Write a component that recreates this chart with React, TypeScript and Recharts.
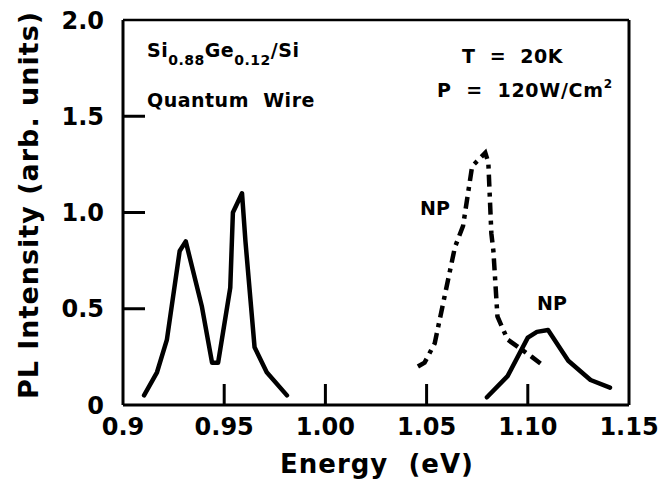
import React from 'react';
import { LineChart, Line, XAxis, YAxis, ReferenceLine } from 'recharts';

// axis ticks and their printed labels
const xTicks = [0.9, 0.95, 1.0, 1.05, 1.1, 1.15];
const xTickLabels = ['0.9', '0.95', '1.00', '1.05', '1.10', '1.15'];
const yTicks = [0, 0.5, 1.0, 1.5, 2.0];
const yTickLabels = ['0', '0.5', '1.0', '1.5', '2.0'];

// quantum wire double peak (solid, left)
const wireEnergy = [0.9104, 0.9168, 0.9217, 0.928, 0.931, 0.939, 0.944, 0.947, 0.953, 0.9543, 0.9588, 0.9605, 0.965, 0.971, 0.981];
const wireIntensity = [0.05, 0.17, 0.34, 0.8, 0.85, 0.51, 0.22, 0.22, 0.61, 1.0, 1.1, 0.85, 0.3, 0.17, 0.05];

// NP peak (dash-dot)
const npEnergy = [1.0457, 1.049, 1.054, 1.064, 1.068, 1.0725, 1.079, 1.0805, 1.082, 1.083, 1.085, 1.09, 1.102, 1.107];
const npIntensity = [0.2, 0.22, 0.32, 0.82, 0.93, 1.24, 1.31, 1.26, 0.89, 0.8, 0.46, 0.34, 0.25, 0.21];

// substrate NP peak (solid, right)
const siEnergy = [1.0798, 1.09, 1.1, 1.1045, 1.11, 1.12, 1.131, 1.1406];
const siIntensity = [0.04, 0.15, 0.35, 0.38, 0.39, 0.23, 0.13, 0.09];

const toRows = (xs: number[], ys: number[]) => xs.map((e, i) => ({ e, v: ys[i] }));
const wireData = toRows(wireEnergy, wireIntensity);
const npData = toRows(npEnergy, npIntensity);
const siData = toRows(siEnergy, siIntensity);

const FONT = '"DejaVu Sans", sans-serif';

const labelFor = (ticks: number[], labels: string[], v: number) => {
  const i = ticks.findIndex(t => Math.abs(t - v) < 1e-6);
  return i >= 0 ? labels[i] : String(v);
};

// inward tick marks + label
const XTick = (props: any) => {
  const { x, y, payload } = props;
  const v = payload.value;
  const edge = Math.abs(v - 0.9) < 1e-6 || Math.abs(v - 1.15) < 1e-6;
  return (
    <g>
      {!edge && <line x1={x} y1={y} x2={x} y2={y - 21} stroke="#000" strokeWidth={3} />}
      <text x={x} y={y + 30} textAnchor="middle" fontFamily={FONT} fontWeight="bold" fontSize={24} fill="#000">
        {labelFor(xTicks, xTickLabels, v)}
      </text>
    </g>
  );
};

const YTick = (props: any) => {
  const { x, y, payload } = props;
  const v = payload.value;
  const edge = v === 0 || Math.abs(v - 2) < 1e-6;
  return (
    <g>
      {!edge && <line x1={x} y1={y} x2={x + 22} y2={y} stroke="#000" strokeWidth={3} />}
      <text x={x - 19} y={y + 8.5} textAnchor="end" fontFamily={FONT} fontWeight="bold" fontSize={24} fill="#000">
        {labelFor(yTicks, yTickLabels, v)}
      </text>
    </g>
  );
};

export default function App() {
  const txt = { fontFamily: FONT, fontWeight: 'bold' as const, fill: '#000', style: { whiteSpace: 'pre' as const } };
  return (
    <div style={{ position: 'absolute', left: 0, top: 0, width: 670, height: 479, background: '#fff' }}>
      <LineChart width={670} height={479} margin={{ top: 20, right: 41, bottom: 34, left: 63 }}>
        <XAxis
          type="number"
          dataKey="e"
          domain={[0.9, 1.15]}
          ticks={xTicks}
          height={40}
          tickSize={0}
          tickMargin={0}
          tickLine={false}
          axisLine={{ stroke: '#000', strokeWidth: 3 }}
          tick={<XTick />}
          allowDataOverflow
        />
        <YAxis
          type="number"
          domain={[0, 2]}
          ticks={yTicks}
          width={60}
          tickSize={0}
          tickMargin={0}
          tickLine={false}
          axisLine={{ stroke: '#000', strokeWidth: 3 }}
          tick={<YTick />}
          allowDataOverflow
        />
        <ReferenceLine y={2} stroke="#000" strokeWidth={2.5} />
        <ReferenceLine x={1.15} stroke="#000" strokeWidth={3} />
        <Line data={wireData} dataKey="v" type="linear" stroke="#000" strokeWidth={4.5} dot={false} strokeLinejoin="round" strokeLinecap="round" isAnimationActive={false} />
        <Line data={npData} dataKey="v" type="linear" stroke="#000" strokeWidth={4.5} dot={false} strokeDasharray="12 6 4 6" isAnimationActive={false} />
        <Line data={siData} dataKey="v" type="linear" stroke="#000" strokeWidth={4.5} dot={false} strokeLinejoin="round" strokeLinecap="round" isAnimationActive={false} />
      </LineChart>
      <svg width={670} height={479} style={{ position: 'absolute', left: 0, top: 0, pointerEvents: 'none' }}>
        <text x={147} y={57} fontSize={19} letterSpacing={0.5} {...txt}>
          Si<tspan fontSize={14} dy={8}>0.88</tspan>
          <tspan dy={-8}>Ge</tspan>
          <tspan fontSize={14} dy={8}>0.12</tspan>
          <tspan dy={-8}>/Si</tspan>
        </text>
        <text x={147} y={107} fontSize={19} letterSpacing={0.5} {...txt}>{'Quantum  Wire'}</text>
        <text x={563} y={63} fontSize={19} letterSpacing={0.5} textAnchor="end" {...txt}>{'T  =  20K'}</text>
        <text x={437} y={97} fontSize={19} letterSpacing={0.7} {...txt}>
          {'P  =  120W/Cm'}<tspan fontSize={12} dy={-9}>2</tspan>
        </text>
        <text x={420} y={215} fontSize={19} {...txt}>NP</text>
        <text x={537} y={310} fontSize={19} {...txt}>NP</text>
        <text x={377} y={473} fontSize={26} textAnchor="middle" letterSpacing={1} {...txt}>{'Energy  (eV)'}</text>
        <text x={38} y={205} fontSize={27} textAnchor="middle" letterSpacing={1} transform="rotate(-90 38 205)" {...txt}>
          PL Intensity (arb. units)
        </text>
      </svg>
    </div>
  );
}
